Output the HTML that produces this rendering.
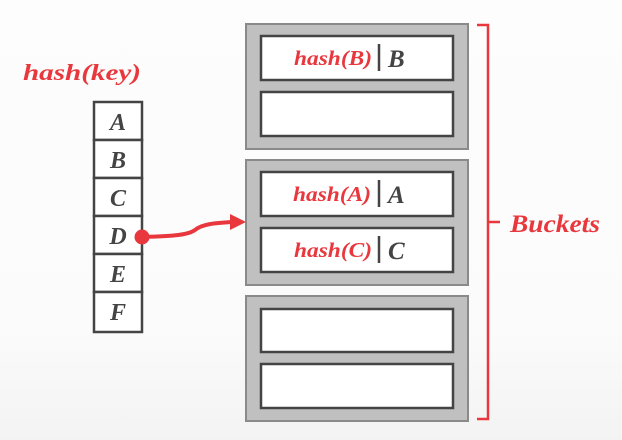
<!DOCTYPE html>
<html><head><meta charset="utf-8"><style>
html,body{margin:0;padding:0;background:#fafafa}
svg{display:block}
</style></head><body>
<svg width="622" height="440" viewBox="0 0 622 440" xmlns="http://www.w3.org/2000/svg" font-family="'Liberation Serif', 'DejaVu Serif', serif" font-weight="bold" font-style="italic">
<defs><linearGradient id="bg" x1="0" y1="0" x2="0" y2="1"><stop offset="0" stop-color="#fdfdfd"/><stop offset="0.75" stop-color="#fbfbfb"/><stop offset="1" stop-color="#f3f3f3"/></linearGradient></defs>
<rect width="622" height="440" fill="url(#bg)"/>
<text x="23" y="80" font-size="23" fill="#e8383d" textLength="118" lengthAdjust="spacingAndGlyphs">hash(key)</text>
<g stroke="#444" stroke-width="2.5" fill="#fff">
<rect x="94" y="102" width="48" height="38"/>
<rect x="94" y="140" width="48" height="38"/>
<rect x="94" y="178" width="48" height="38"/>
<rect x="94" y="216" width="48" height="38"/>
<rect x="94" y="254" width="48" height="38"/>
<rect x="94" y="292" width="48" height="40"/>
</g>
<g font-size="24" fill="#444" text-anchor="middle">
<text x="118" y="130">A</text><text x="118" y="168">B</text><text x="118" y="206">C</text>
<text x="118" y="244">D</text><text x="118" y="282">E</text><text x="118" y="320">F</text>
</g>
<g stroke="#8a8a8a" stroke-width="2" fill="#c0c0c0">
<rect x="246" y="24" width="222" height="125"/>
<rect x="246" y="160" width="222" height="125"/>
<rect x="246" y="296" width="222" height="125"/>
</g>
<g stroke="#444" stroke-width="2.5" fill="#fff">
<rect x="261" y="36" width="192" height="44"/><rect x="261" y="92" width="192" height="44"/>
<rect x="261" y="172" width="192" height="44"/><rect x="261" y="228" width="192" height="44"/>
<rect x="261" y="309" width="192" height="43"/><rect x="261" y="364" width="192" height="44"/>
</g>
<g font-size="21">
<text x="294" y="65" fill="#e8383d" textLength="78" lengthAdjust="spacingAndGlyphs">hash(B)</text><text x="388" y="67" font-size="25" fill="#444">B</text>
<text x="293" y="201" fill="#e8383d" textLength="78" lengthAdjust="spacingAndGlyphs">hash(A)</text><text x="388" y="203" font-size="25" fill="#444">A</text>
<text x="294" y="257" fill="#e8383d" textLength="78" lengthAdjust="spacingAndGlyphs">hash(C)</text><text x="388" y="259" font-size="25" fill="#444">C</text>
</g>
<g stroke="#444" stroke-width="2.5">
<line x1="379" y1="44" x2="379" y2="71"/><line x1="379" y1="180" x2="379" y2="207"/><line x1="379" y1="236" x2="379" y2="263"/>
</g>
<circle cx="142" cy="237" r="7.5" fill="#e8383d"/>
<path d="M142,237 C175,236 188,235 195,230 C202,224 215,223 232,222" stroke="#e8383d" stroke-width="4" fill="none"/>
<polygon points="230,214 246,222 230,230" fill="#e8383d"/>
<path d="M477,25 L488,25 L488,419 L477,419 M488,222 L500,222" stroke="#e8383d" stroke-width="2.5" fill="none"/>
<text x="510" y="232" font-size="25" fill="#e8383d" textLength="90" lengthAdjust="spacingAndGlyphs">Buckets</text>
</svg>
</body></html>
